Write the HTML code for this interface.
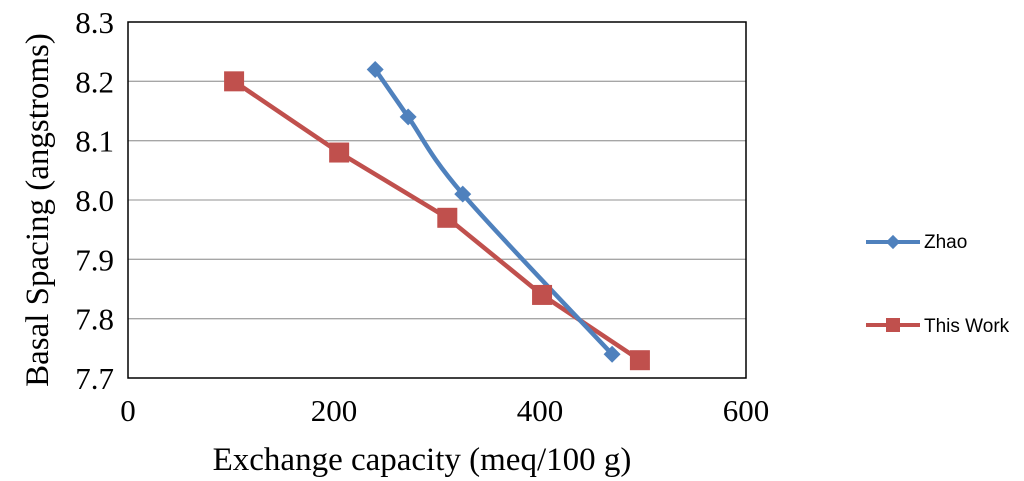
<!DOCTYPE html>
<html><head><meta charset="utf-8"><style>
body{margin:0;background:#fff;width:1024px;height:481px;overflow:hidden}
svg{display:block}
.t{font-family:"Liberation Serif",serif;font-size:31px;fill:#000}
.a{font-family:"Liberation Serif",serif;font-size:33px;fill:#000}
.l{font-family:"Liberation Sans",sans-serif;font-size:19px;fill:#000}
</style></head><body>
<svg id="c" width="1024" height="481"></svg>
<script>
const xTicks=[0,200,400,600];
const yTicks=[7.7,7.8,7.9,8.0,8.1,8.2,8.3];
const zhaoX=[240,272,325,470];
const zhaoY=[8.22,8.14,8.01,7.74];
const workX=[103,205,310,402,497];
const workY=[8.20,8.08,7.97,7.84,7.73];
const L=128,R=746,T=22,B=378;
const sx=v=>L+(v-0)/(600)*(R-L);
const sy=v=>B-(v-7.7)/0.6*(B-T);
const svg=document.getElementById('c');
const NS='http://www.w3.org/2000/svg';
function mk(tag,a,p){const e=document.createElementNS(NS,tag);for(const k in a)e.setAttribute(k,a[k]);(p||svg).appendChild(e);return e;}
yTicks.forEach((v,i)=>{
  if(i>0&&i<yTicks.length-1){const g=mk('line',{x1:L,x2:R,y1:sy(v),y2:sy(v),stroke:'#a6a6a6','stroke-width':1.3});
  
  }
  const t=mk('text',{x:L-14,y:sy(v)+11,'text-anchor':'end',class:'t'});t.textContent=v.toFixed(1);
  
  
});
xTicks.forEach(v=>{
  const t=mk('text',{x:sx(v),y:B+43,'text-anchor':'middle',class:'t'});t.textContent=v;
  
  
});
const fr=mk('rect',{x:L,y:T,width:R-L,height:B-T,fill:'none',stroke:'#000','stroke-width':1.5});


const zp=zhaoX.map((x,i)=>[sx(x),sy(zhaoY[i])]);
let d='M'+zp[0];
for(let i=0;i<zp.length-1;i++){const p0=zp[Math.max(0,i-1)],p1=zp[i],p2=zp[i+1],p3=zp[Math.min(zp.length-1,i+2)];
const c1=[p1[0]+(p2[0]-p0[0])/6,p1[1]+(p2[1]-p0[1])/6],c2=[p2[0]-(p3[0]-p1[0])/6,p2[1]-(p3[1]-p1[1])/6];
d+=' C'+c1+' '+c2+' '+p2;}
const wl=mk('polyline',{points:workX.map((x,i)=>sx(x)+','+sy(workY[i])).join(' '),fill:'none',stroke:'#c0504d','stroke-width':4.5});


const zl=mk('path',{d:d,fill:'none',stroke:'#4f81bd','stroke-width':4.5});


zp.forEach(p=>{const m=mk('rect',{x:p[0]-6,y:p[1]-6,width:12,height:12,fill:'#4f81bd',transform:`rotate(45 ${p[0]} ${p[1]})`});

});
workX.forEach((x,i)=>{const m=mk('rect',{x:sx(x)-10,y:sy(workY[i])-10,width:20,height:20,fill:'#c0504d'});

});
const lg=mk('g',{});
mk('line',{x1:866,x2:920,y1:242,y2:242,stroke:'#4f81bd','stroke-width':4},lg);
mk('rect',{x:888,y:237,width:10,height:10,fill:'#4f81bd',transform:'rotate(45 893 242)'},lg);
const t1=mk('text',{x:924,y:248,class:'l'},lg);t1.textContent='Zhao';
mk('line',{x1:866,x2:920,y1:325,y2:325,stroke:'#c0504d','stroke-width':4},lg);
mk('rect',{x:886,y:318,width:14,height:14,fill:'#c0504d'},lg);
const t2=mk('text',{x:924,y:332,class:'l'},lg);t2.textContent='This Work';
const xt=mk('text',{x:422,y:470,'text-anchor':'middle',class:'a'});xt.textContent='Exchange capacity (meq/100 g)';

const yt=mk('text',{x:0,y:0,'text-anchor':'middle',class:'a',transform:'translate(48 210) rotate(-90)'});yt.textContent='Basal Spacing (angstroms)';

</script>
</body></html>
